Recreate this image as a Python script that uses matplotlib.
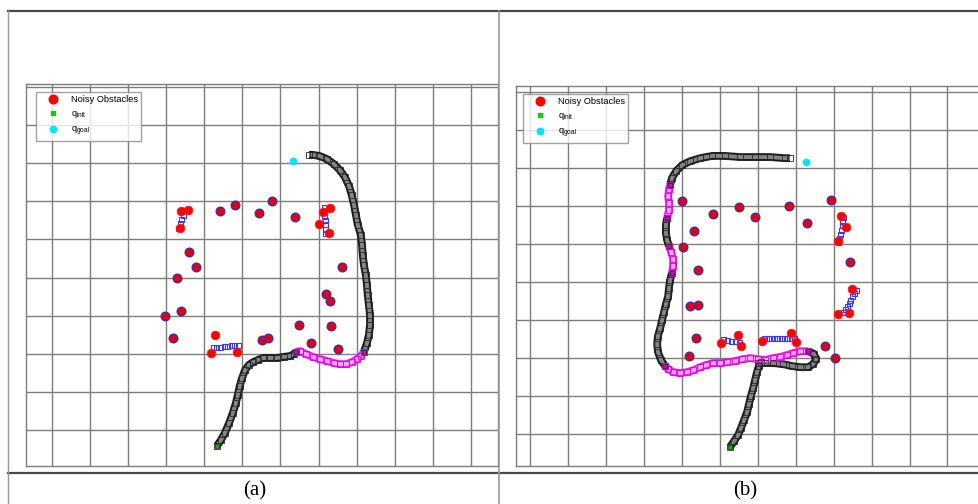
import matplotlib
matplotlib.use("Agg")
import matplotlib.pyplot as plt
from matplotlib.lines import Line2D

plt.rcParams["font.family"] = ["Liberation Sans", "DejaVu Sans"]
plt.rcParams["mathtext.fontset"] = "custom"
plt.rcParams["mathtext.rm"] = "Liberation Sans"

# ---------------- panel (a) ----------------
a_obs_x = [3.39, 3.57, 3.36, 7.11, 7.30, 7.01, 7.27, 4.28, 4.17, 4.86]
a_obs_y = [5.75, 5.77, 5.30, 5.72, 5.83, 5.41, 5.17, 2.49, 2.02, 2.05]
a_trk_x = [4.41, 4.80, 5.43, 5.77, 6.38, 3.60, 3.78, 3.28, 7.61, 7.19,
           7.30, 2.97, 3.39, 3.18, 5.51, 5.67, 6.48, 7.32, 6.80, 7.51]
a_trk_y = [5.75, 5.91, 5.70, 6.01, 5.59, 4.67, 4.28, 3.99, 4.28, 3.57,
           3.39, 2.99, 3.12, 2.41, 2.36, 2.41, 2.76, 2.73, 2.28, 2.13]
a_seg = [
    ([3.31, 3.35, 3.40, 3.44, 3.49], [5.30, 5.42, 5.54, 5.65, 5.77]),
    ([7.14, 7.15, 7.15, 7.16, 7.16, 7.17, 7.17], [5.85, 5.74, 5.62, 5.51, 5.40, 5.28, 5.17]),
    ([4.23, 4.32, 4.42, 4.51, 4.60, 4.69, 4.79, 4.88], [2.18, 2.19, 2.19, 2.20, 2.21, 2.22, 2.22, 2.23]),
]
a_init = (4.33, -0.42)
a_goal = (6.33, 7.06)
a_black = [
    ([4.33, 4.44, 4.54, 4.65, 4.75, 4.83, 4.88, 4.93, 4.99, 5.07, 5.17, 5.28, 5.41,
      5.54, 5.72, 5.91, 6.09, 6.25, 6.35, 6.40],
     [-0.42, -0.26, -0.08, 0.18, 0.45, 0.71, 0.92, 1.15, 1.36, 1.57, 1.71, 1.78, 1.84,
      1.89, 1.89, 1.89, 1.92, 1.94, 1.99, 2.05]),
    ([8.19, 8.27, 8.32, 8.35, 8.35, 8.32, 8.29, 8.27, 8.24, 8.19, 8.16, 8.14, 8.11,
      8.03, 7.98, 7.93, 7.87, 7.80, 7.69, 7.56, 7.40, 7.22, 7.03, 6.85, 6.75],
     [2.05, 2.28, 2.49, 2.76, 3.02, 3.28, 3.54, 3.81, 4.07, 4.33, 4.59, 4.86, 5.12,
      5.38, 5.64, 5.91, 6.17, 6.40, 6.64, 6.82, 6.98, 7.11, 7.19, 7.22, 7.22]),
]
a_magenta = [
    ([6.40, 6.51, 6.67, 6.85, 7.03, 7.22, 7.40, 7.56, 7.72, 7.87, 8.01, 8.11, 8.19],
     [2.05, 2.07, 1.99, 1.92, 1.86, 1.81, 1.76, 1.73, 1.73, 1.78, 1.86, 1.94, 2.05]),
]

# ---------------- panel (b) ----------------
b_obs_x = [8.20, 8.33, 8.12, 8.48, 8.12, 8.41, 5.03, 5.48, 5.56, 6.11, 6.88, 7.01]
b_obs_y = [5.74, 5.45, 5.08, 3.82, 3.16, 3.18, 2.39, 2.61, 2.32, 2.45, 2.66, 2.42]
b_trk_x = [4.01, 4.82, 5.51, 5.93, 6.82, 7.93, 7.30, 4.32, 4.03, 4.43,
           4.22, 4.43, 8.43, 4.37, 4.19, 7.77, 8.04]
b_trk_y = [6.13, 5.79, 5.97, 5.71, 6.00, 6.16, 5.55, 5.34, 4.92, 4.32,
           3.37, 3.39, 4.53, 2.53, 2.05, 2.32, 2.00]
b_seg = [
    ([8.25, 8.23, 8.21, 8.19, 8.16, 8.14, 8.12], [5.71, 5.60, 5.49, 5.38, 5.27, 5.16, 5.05]),
    ([8.59, 8.54, 8.49, 8.44, 8.40, 8.35, 8.30, 8.25], [3.79, 3.71, 3.63, 3.54, 3.46, 3.38, 3.29, 3.21]),
    ([5.09, 5.20, 5.30, 5.41, 5.51], [2.50, 2.48, 2.46, 2.44, 2.42]),
    ([6.17, 6.26, 6.35, 6.43, 6.52, 6.61, 6.70, 6.78, 6.87, 6.96], [2.53] * 10),
]
b_init = (5.27, -0.34)
b_goal = (7.27, 7.16)
b_black = [
    ([5.27, 5.38, 5.48, 5.56, 5.64, 5.72, 5.77, 5.82, 5.88, 5.93, 5.98, 6.03, 6.09],
     [-0.34, -0.18, -0.03, 0.16, 0.37, 0.58, 0.79, 1.00, 1.21, 1.42, 1.63, 1.79, 1.89]),
    ([6.01, 6.19, 6.40, 6.67, 6.90, 7.11, 7.33, 7.46, 7.54, 7.48, 7.33],
     [1.87, 1.87, 1.87, 1.84, 1.79, 1.76, 1.76, 1.84, 1.97, 2.11, 2.18]),
    ([3.56, 3.45, 3.37, 3.35, 3.37, 3.43, 3.48, 3.53, 3.58, 3.64, 3.66, 3.69, 3.74],
     [1.79, 1.95, 2.16, 2.37, 2.58, 2.79, 3.00, 3.21, 3.42, 3.63, 3.84, 4.05, 4.24]),
    ([3.66, 3.61, 3.58, 3.58, 3.61], [4.95, 5.11, 5.29, 5.50, 5.68]),
    ([3.69, 3.74, 3.85, 4.01, 4.22, 4.48, 4.80, 5.14, 5.53, 5.93, 6.32, 6.72, 6.85],
     [6.55, 6.74, 6.92, 7.08, 7.18, 7.26, 7.32, 7.32, 7.29, 7.29, 7.29, 7.26, 7.26]),
]
b_magenta = [
    ([7.33, 7.11, 6.93, 6.77, 6.59, 6.40, 6.19, 6.01, 5.80, 5.59, 5.40, 5.19, 5.01,
      4.82, 4.64, 4.48, 4.30, 4.14, 3.95, 3.77, 3.64, 3.56],
     [2.18, 2.18, 2.13, 2.08, 2.03, 2.00, 1.95, 1.97, 2.00, 1.97, 1.92, 1.89, 1.87,
      1.87, 1.82, 1.76, 1.68, 1.63, 1.61, 1.63, 1.71, 1.79]),
    ([3.74, 3.77, 3.77, 3.72, 3.66], [4.24, 4.42, 4.61, 4.79, 4.95]),
    ([3.61, 3.66, 3.66, 3.64, 3.66, 3.69], [5.68, 5.89, 6.08, 6.26, 6.45, 6.55]),
]

GRID_X = list(range(0, 12))
GRID_Y = list(range(0, 10))
LEGEND_LABELS = ["Noisy Obstacles", r"q$_{\mathrm{init}}$", r"q$_{\mathrm{goal}}$"]

W, H = 979, 504
fig = plt.figure(figsize=(W / 100, H / 100), dpi=100)


def px_axes(l, t, r, b):
    return fig.add_axes([l / W, 1 - b / H, (r - l) / W, (b - t) / H])


def band(ax, xs, ys, edge, fill, mk):
    ax.plot(xs, ys, color=edge, lw=5.6, solid_capstyle="butt", zorder=3)
    ax.plot(xs, ys, color=fill, lw=2.8, solid_capstyle="butt", zorder=3.1)
    ax.plot(xs, ys, ls="none", marker="s", ms=4.2, mfc="none", mec=mk, mew=0.6, zorder=3.2)


def draw_panel(ax, xlim, ylim, obs, trk, segs, black, magenta, init, goal, leg_anchor):
    ax.set_xlim(*xlim)
    ax.set_ylim(*ylim)
    ax.set_xticks(GRID_X)
    ax.set_yticks(GRID_Y)
    ax.tick_params(length=0, labelbottom=False, labelleft=False)
    ax.grid(True, color="#7d7d7d", lw=1.0)
    ax.set_axisbelow(True)
    for s in ax.spines.values():
        s.set_color("#7d7d7d")
        s.set_linewidth(1.0)

    for xs, ys in black:
        band(ax, xs, ys, "#1a1a1a", "#858585", "#2a2a2a")
    for xs, ys in magenta:
        band(ax, xs, ys, "#ee22ee", "#f6a8f6", "#dd00dd")
        ax.plot([xs[0], xs[-1]], [ys[0], ys[-1]], ls="none", marker="s", ms=3.5,
                mfc="#a020a0", mec="#600060", mew=0.6, zorder=3.5)

    for xs, ys in segs:
        ax.plot(xs, ys, ls="none", marker="s", ms=3.6, mfc="none", mec="#3a3aff",
                mew=0.8, zorder=4)

    ax.plot(obs[0], obs[1], ls="none", marker="o", ms=6.2, mfc="#ff0000",
            mec="#ff1a1a", mew=0.6, zorder=5)
    ax.plot(trk[0], trk[1], ls="none", marker="o", ms=6.2, mfc="#e00010",
            mec="#4a2aa8", mew=1.0, zorder=5)

    ax.plot([init[0]], [init[1]], ls="none", marker="s", ms=3.5, mfc="#11aa11",
            mec="#0a5a0a", mew=0.6, zorder=6)
    ax.plot([goal[0]], [goal[1]], ls="none", marker="o", ms=4.6, mfc="#00e5ff",
            mec="#00e5ff", zorder=6)

    handles = [
        Line2D([], [], ls="none", marker="o", ms=6.2, mfc="#ff0000", mec="#ff0000"),
        Line2D([], [], ls="none", marker="s", ms=3.2, mfc="#11cc11", mec="#11cc11"),
        Line2D([], [], ls="none", marker="o", ms=4.6, mfc="#00e5ff", mec="#00e5ff"),
    ]
    leg = ax.legend(handles, LEGEND_LABELS, loc="upper left", bbox_to_anchor=leg_anchor,
                    fontsize=6.7, frameon=True, fancybox=False, borderpad=0.35,
                    handlelength=2.9, handletextpad=0.5, labelspacing=0.5,
                    borderaxespad=0.0)
    fr = leg.get_frame()
    fr.set_edgecolor("#8c8c8c")
    fr.set_linewidth(1.0)
    leg.set_zorder(10)


# panel (a): box 26..498 x 84..466 px
ax_a = px_axes(26, 84, 498, 466)
draw_panel(ax_a, (-0.68, 11.71), (-0.945, 9.08), (a_obs_x, a_obs_y), (a_trk_x, a_trk_y),
           a_seg, a_black, a_magenta, a_init, a_goal,
           ((36 - 26) / 472, (466 - 92) / 382))

# panel (b): box from 516 px, running past the right edge
ax_b = px_axes(516, 86, 990, 466)
draw_panel(ax_b, (-0.37, 12.12), (-0.84, 9.16), (b_obs_x, b_obs_y), (b_trk_x, b_trk_y),
           b_seg, b_black, b_magenta, b_init, b_goal,
           ((523 - 516) / 474, (466 - 94) / 380))


# table rules around the two panels
def rule(x0, y0, x1, y1, color, lw):
    fig.add_artist(Line2D([x0 / W, x1 / W], [1 - y0 / H, 1 - y1 / H],
                          transform=fig.transFigure, color=color, lw=lw))


rule(8, 11, W, 11, "#4a4a4a", 1.6)
rule(8, 473, W, 473, "#4a4a4a", 1.6)
rule(8, 11, 8, H, "#9a9a9a", 1.0)
rule(499.5, 11, 499.5, H, "#9a9a9a", 1.2)

fig.text(255 / W, 1 - 491 / H, "(a)", family=["Liberation Serif", "DejaVu Serif"],
         fontsize=15, ha="center", va="center")
fig.text(745 / W, 1 - 491 / H, "(b)", family=["Liberation Serif", "DejaVu Serif"],
         fontsize=15, ha="center", va="center")

fig.savefig("out.png", dpi=100)
